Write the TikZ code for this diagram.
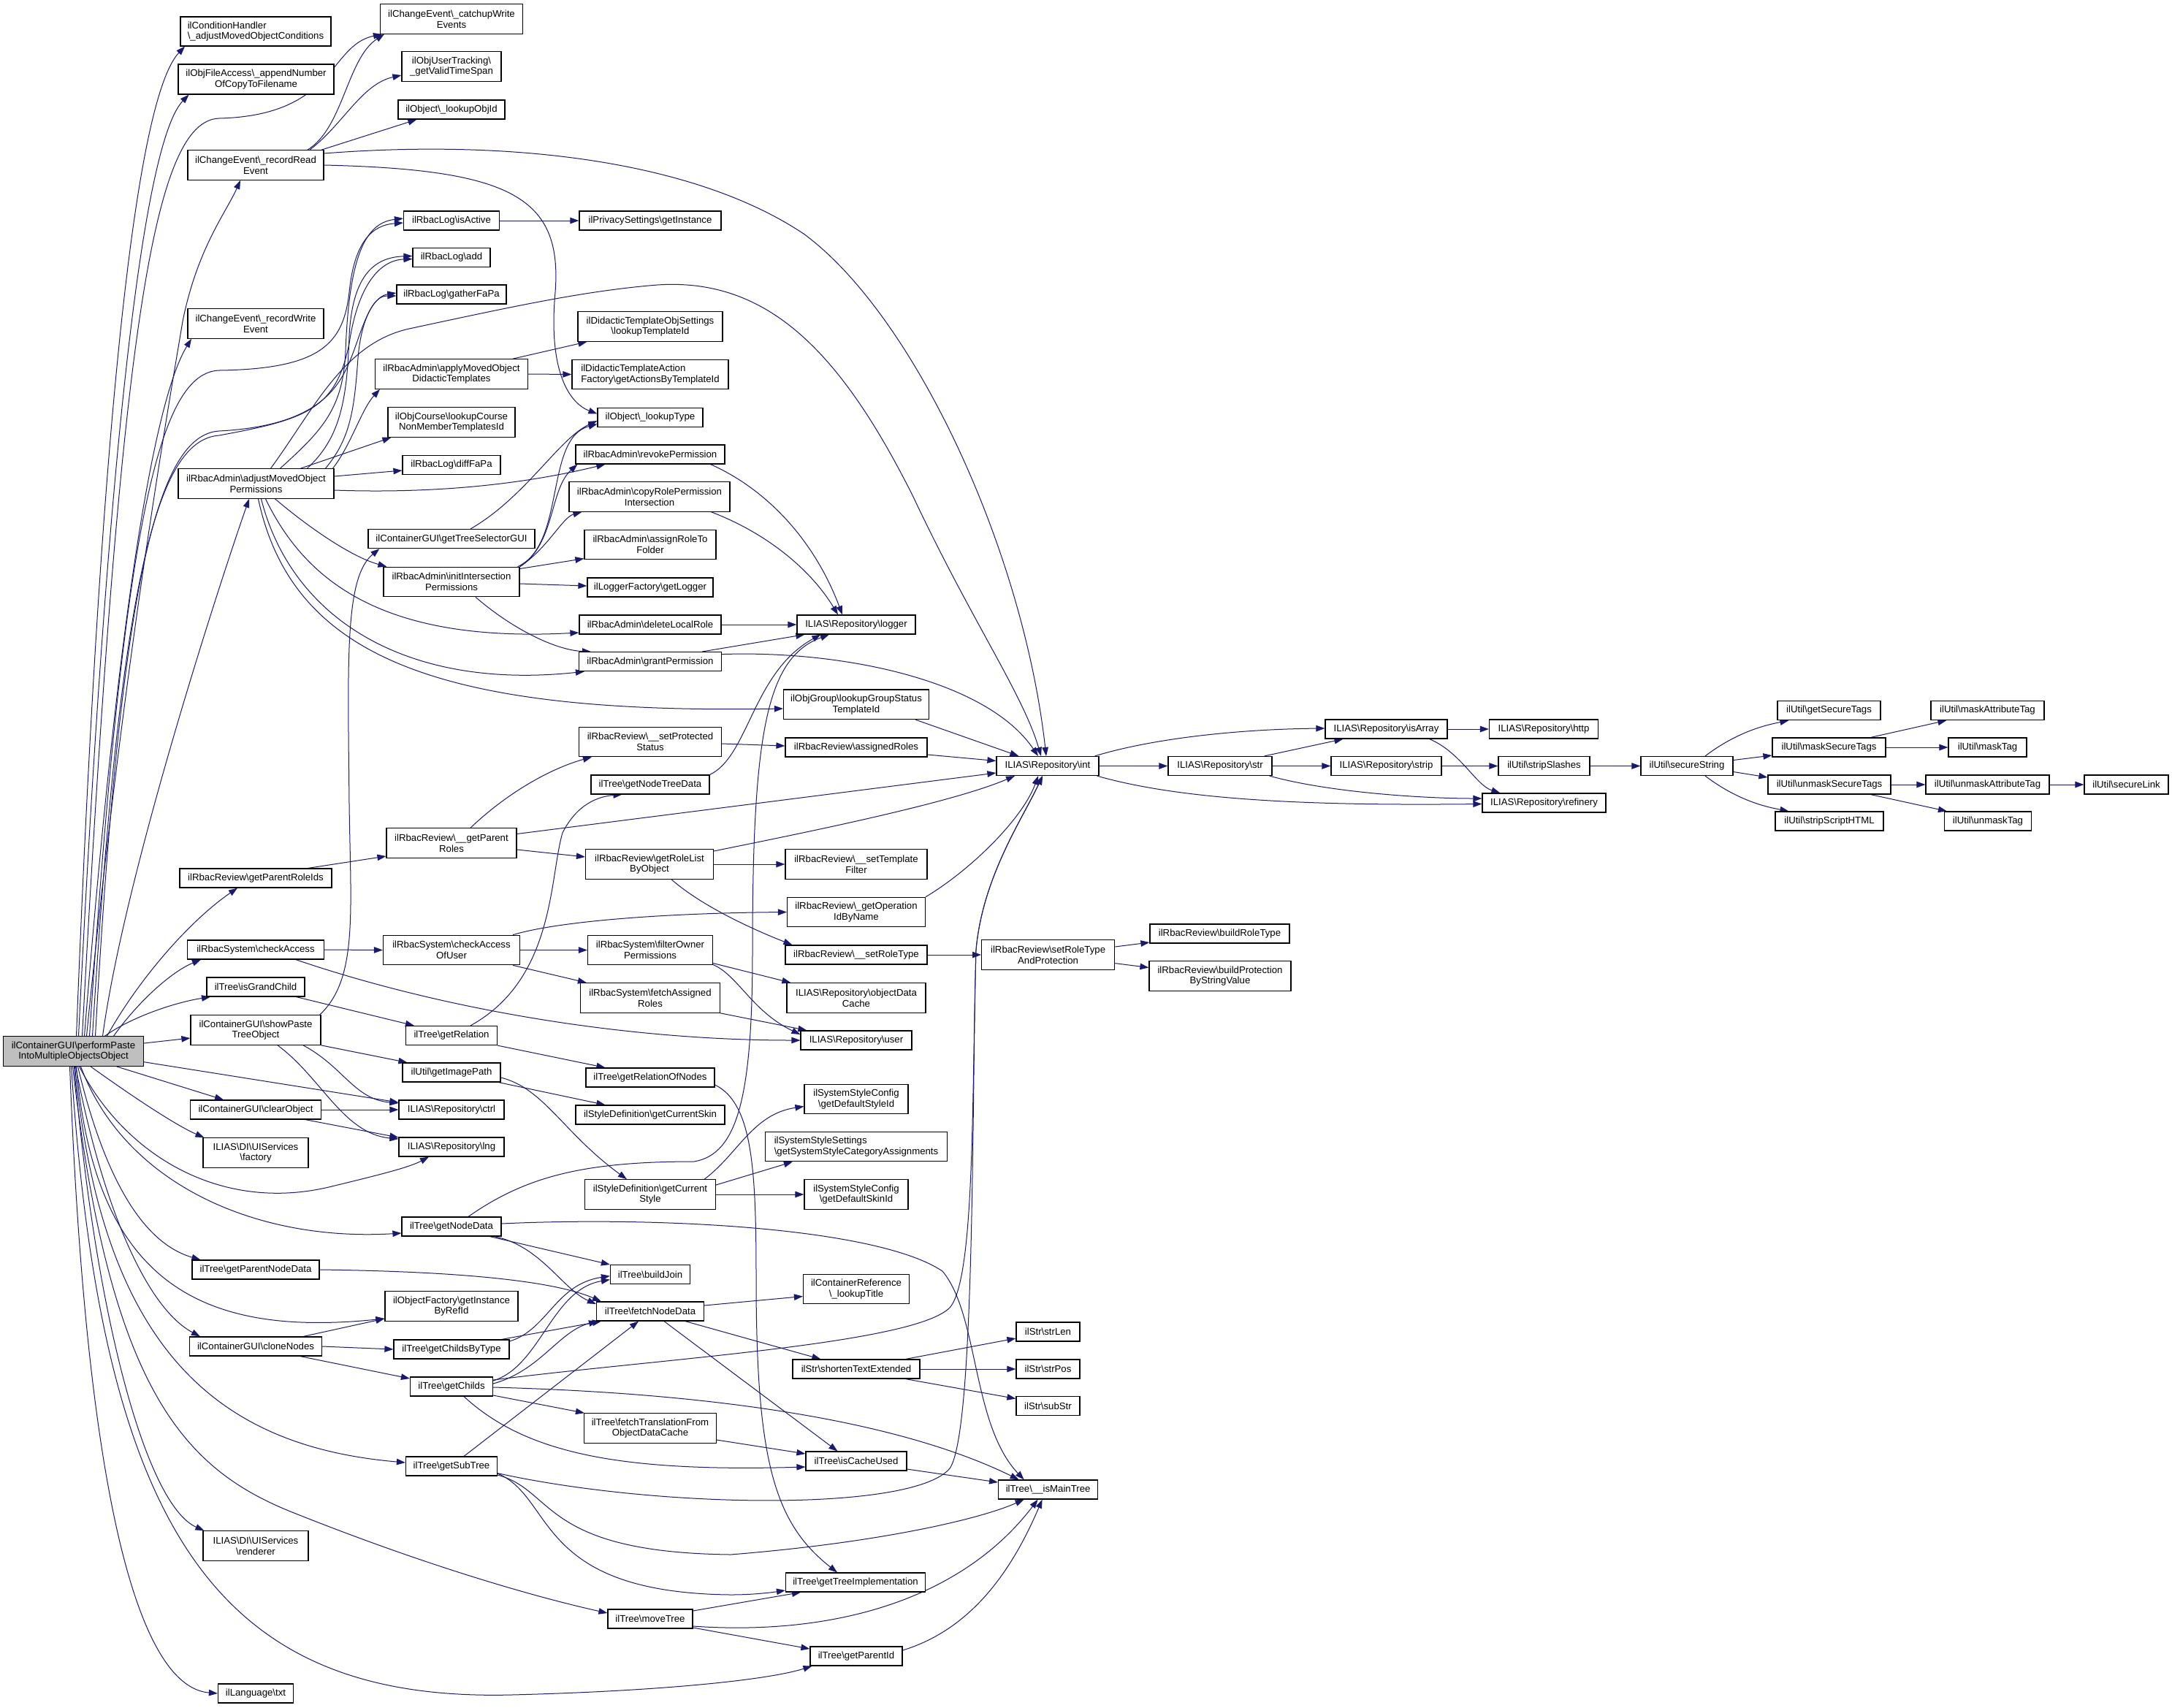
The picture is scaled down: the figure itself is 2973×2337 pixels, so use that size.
\documentclass[tikz,border=0pt]{standalone}
\usepackage{fontspec}
\setmainfont{Liberation Sans}
\usetikzlibrary{arrows.meta}
\definecolor{edgec}{HTML}{191970}
\definecolor{rootg}{HTML}{BFBFBF}
\newcommand\BS{\textbackslash}
\pgfdeclarelayer{bg}
\pgfsetlayers{bg,main}
\tikzset{
  nbox/.style={draw=black,line width=1.2pt,fill=white,inner sep=0pt,align=center,font=\fontsize{13.2}{14.8}\selectfont},
  edg/.style={draw=edgec,line width=1pt,-{Triangle[length=12pt,width=8.5pt]}}
}
\newcommand\bx[6]{\node[nbox,minimum width=#4pt,minimum height=#5pt] (#1) at (#2,#3) {#6};}
\newcommand\bxl[6]{\node[nbox,align=left,minimum width=#4pt,minimum height=#5pt] (#1) at (#2,#3) {#6};}
\begin{document}
\begin{tikzpicture}[x=1pt,y=-1pt]
\useasboundingbox (0,0) rectangle (2973,2337);
% ---------------- nodes ----------------
\node[nbox,fill=rootg,minimum width=192pt,minimum height=40.5pt] (R) at (100.5,1439) {ilContainerGUI\BS{}performPaste\\IntoMultipleObjectsObject};
\bxl{cond}{350}{43}{206}{40}{ilConditionHandler\\\BS\_adjustMovedObjectConditions}
\bx{fileacc}{350.5}{108.5}{213}{41}{ilObjFileAccess\BS\_appendNumber\\OfCopyToFilename}
\bx{recread}{350}{226}{186}{40.5}{ilChangeEvent\BS\_recordRead\\Event}
\bx{recwrite}{350}{443}{186}{40.5}{ilChangeEvent\BS\_recordWrite\\Event}
\bx{adjmoved}{350.5}{662}{213}{40.5}{ilRbacAdmin\BS{}adjustMovedObject\\Permissions}
\bx{parentroleids}{350}{1202}{208}{26}{ilRbacReview\BS{}getParentRoleIds}
\bx{checkaccess}{350}{1300}{187}{26}{ilRbacSystem\BS{}checkAccess}
\bx{isgrand}{350}{1351}{134}{26}{ilTree\BS{}isGrandChild}
\bx{showpaste}{350}{1410}{178}{40.5}{ilContainerGUI\BS{}showPaste\\TreeObject}
\bx{clearobj}{350}{1519}{179}{26}{ilContainerGUI\BS{}clearObject}
\bx{factory}{350}{1578}{144}{40.5}{ILIAS\BS{}DI\BS{}UIServices\\\BS{}factory}
\bx{parentnodedata}{350}{1738}{174}{26}{ilTree\BS{}getParentNodeData}
\bx{clonenodes}{350}{1843}{181}{26}{ilContainerGUI\BS{}cloneNodes}
\bx{renderer}{350}{2116}{144}{40.5}{ILIAS\BS{}DI\BS{}UIServices\\\BS{}renderer}
\bx{txt}{350}{2318}{103}{26}{ilLanguage\BS{}txt}
%
\bx{catchup}{618}{26}{195}{40.5}{ilChangeEvent\BS\_catchupWrite\\Events}
\bx{validtime}{618}{91}{136}{40.5}{ilObjUserTracking\BS\\\_getValidTimeSpan}
\bx{lookupobjid}{618}{150}{146}{26}{ilObject\BS\_lookupObjId}
\bx{isactive}{618}{302}{131}{26}{ilRbacLog\BS{}isActive}
\bx{add}{618}{352.5}{106}{26}{ilRbacLog\BS{}add}
\bx{gather}{618}{403}{150}{26}{ilRbacLog\BS{}gatherFaPa}
\bx{applymoved}{618}{512}{209}{40.5}{ilRbacAdmin\BS{}applyMovedObject\\DidacticTemplates}
\bx{lookupcourse}{618}{578}{174}{40.5}{ilObjCourse\BS{}lookupCourse\\NonMemberTemplatesId}
\bx{difffapa}{618}{636.5}{134}{26}{ilRbacLog\BS{}diffFaPa}
\bx{treeselector}{618}{737.6}{228}{26}{ilContainerGUI\BS{}getTreeSelectorGUI}
\bx{initinter}{618}{796.5}{186}{40.5}{ilRbacAdmin\BS{}initIntersection\\Permissions}
\bx{getparentroles}{618}{1154}{178}{40.5}{ilRbacReview\BS\_\_getParent\\Roles}
\bx{checkaccessofuser}{618}{1300.5}{187}{40.5}{ilRbacSystem\BS{}checkAccess\\OfUser}
\bx{getrelation}{618}{1417.5}{125}{26}{ilTree\BS{}getRelation}
\bx{getimagepath}{618}{1468}{134}{26}{ilUtil\BS{}getImagePath}
\bx{ctrl}{618}{1519}{144}{26}{ILIAS\BS{}Repository\BS{}ctrl}
\bx{lng}{618}{1570}{144}{26}{ILIAS\BS{}Repository\BS{}lng}
\bx{getnodedata}{618}{1679}{136}{26}{ilTree\BS{}getNodeData}
\bx{getinstance}{618}{1788}{182}{40.5}{ilObjectFactory\BS{}getInstance\\ByRefId}
\bx{childsbytype}{618}{1847}{158}{26}{ilTree\BS{}getChildsByType}
\bx{getchilds}{618}{1898}{113}{26}{ilTree\BS{}getChilds}
\bx{getsubtree}{618}{2007}{125}{26}{ilTree\BS{}getSubTree}
%
\bx{privacy}{890}{302}{194}{26}{ilPrivacySettings\BS{}getInstance}
\bx{lookuptemplate}{890}{447}{198}{40.5}{ilDidacticTemplateObjSettings\\\BS{}lookupTemplateId}
\bxl{actionsbytemplate}{890}{512.5}{214}{40.5}{ilDidacticTemplateAction\\Factory\BS{}getActionsByTemplateId}
\bx{lookuptype}{890}{571.5}{144}{26}{ilObject\BS\_lookupType}
\bx{revoke}{890}{622}{204}{26}{ilRbacAdmin\BS{}revokePermission}
\bx{copyrole}{889}{680}{220}{40.5}{ilRbacAdmin\BS{}copyRolePermission\\Intersection}
\bx{assignrole}{890}{745.6}{180}{40.5}{ilRbacAdmin\BS{}assignRoleTo\\Folder}
\bx{getlogger}{890}{804}{172}{26}{ilLoggerFactory\BS{}getLogger}
\bx{deletelocal}{890}{855}{194}{26}{ilRbacAdmin\BS{}deleteLocalRole}
\bx{grant}{890}{905.6}{195}{26}{ilRbacAdmin\BS{}grantPermission}
\bx{setprotected}{890}{1015.5}{195}{40.5}{ilRbacReview\BS\_\_setProtected\\Status}
\bx{nodetreedata}{890}{1074}{162}{26}{ilTree\BS{}getNodeTreeData}
\bx{rolelist}{889}{1183}{175}{40.5}{ilRbacReview\BS{}getRoleList\\ByObject}
\bx{filterowner}{890}{1300.5}{171}{40.5}{ilRbacSystem\BS{}filterOwner\\Permissions}
\bx{fetchassigned}{890}{1366}{191}{40.5}{ilRbacSystem\BS{}fetchAssigned\\Roles}
\bx{relationofnodes}{890}{1475}{176}{26}{ilTree\BS{}getRelationOfNodes}
\bx{currentskin}{890}{1526}{204}{26}{ilStyleDefinition\BS{}getCurrentSkin}
\bx{currentstyle}{890}{1635}{179}{40.5}{ilStyleDefinition\BS{}getCurrent\\Style}
\bx{buildjoin}{890}{1744.6}{109}{26}{ilTree\BS{}buildJoin}
\bx{fetchnodedata}{890}{1795}{147}{26}{ilTree\BS{}fetchNodeData}
\bx{fetchtranslation}{890}{1955}{181}{40.5}{ilTree\BS{}fetchTranslationFrom\\ObjectDataCache}
\bx{movetree}{890}{2216}{116}{26}{ilTree\BS{}moveTree}
%
\bx{logger}{1172}{855}{162}{26}{ILIAS\BS{}Repository\BS{}logger}
\bx{groupstatus}{1172}{964.3}{199}{40.5}{ilObjGroup\BS{}lookupGroupStatus\\TemplateId}
\bx{assignedroles}{1172}{1023}{194}{26}{ilRbacReview\BS{}assignedRoles}
\bx{templatefilter}{1172}{1183}{194}{40.5}{ilRbacReview\BS\_\_setTemplate\\Filter}
\bx{opidbyname}{1172}{1248.5}{189}{40.5}{ilRbacReview\BS\_getOperation\\IdByName}
\bx{setroletype}{1172}{1307}{194}{26}{ilRbacReview\BS\_\_setRoleType}
\bx{objectdatacache}{1172}{1366}{190}{40.5}{ILIAS\BS{}Repository\BS{}objectData\\Cache}
\bx{user}{1172}{1424}{152}{26}{ILIAS\BS{}Repository\BS{}user}
\bx{defaultstyle}{1172}{1504.5}{142}{40.5}{ilSystemStyleConfig\\\BS{}getDefaultStyleId}
\bxl{styleassign}{1172}{1569.5}{249}{40.5}{ilSystemStyleSettings\\\BS{}getSystemStyleCategoryAssignments}
\bx{defaultskin}{1172}{1635}{142}{40.5}{ilSystemStyleConfig\\\BS{}getDefaultSkinId}
\bx{lookuptitle}{1172}{1764.5}{145}{40.5}{ilContainerReference\\\BS\_lookupTitle}
\bx{shortentext}{1172}{1874}{174}{26}{ilStr\BS{}shortenTextExtended}
\bx{iscacheused}{1172}{2000}{138}{26}{ilTree\BS{}isCacheUsed}
\bx{treeimpl}{1171}{2166}{191}{26}{ilTree\BS{}getTreeImplementation}
\bx{parentid}{1172}{2267}{126}{26}{ilTree\BS{}getParentId}
%
\bx{int}{1434}{1048.5}{140}{26}{ILIAS\BS{}Repository\BS{}int}
\bx{setroletypeprot}{1434.6}{1307}{182}{40.5}{ilRbacReview\BS{}setRoleType\\AndProtection}
\bx{strlen}{1434.5}{1823}{87}{26}{ilStr\BS{}strLen}
\bx{strpos}{1434.5}{1874}{87}{26}{ilStr\BS{}strPos}
\bx{substr}{1434.5}{1924.5}{87}{26}{ilStr\BS{}subStr}
\bx{ismaintree}{1434.6}{2039}{136}{26}{ilTree\BS\_\_isMainTree}
%
\bx{str}{1670}{1048.5}{142}{26}{ILIAS\BS{}Repository\BS{}str}
\bx{buildroletype}{1669.5}{1278}{191}{26}{ilRbacReview\BS{}buildRoleType}
\bx{buildprotection}{1670}{1336}{194}{40.5}{ilRbacReview\BS{}buildProtection\\ByStringValue}
\bx{isarray}{1897.5}{998}{167}{26}{ILIAS\BS{}Repository\BS{}isArray}
\bx{strip}{1897.5}{1048.5}{151}{26}{ILIAS\BS{}Repository\BS{}strip}
\bx{http}{2113}{998}{149}{26}{ILIAS\BS{}Repository\BS{}http}
\bx{stripslashes}{2113.5}{1048.5}{125}{26}{ilUtil\BS{}stripSlashes}
\bx{refinery}{2113.5}{1099}{169}{26}{ILIAS\BS{}Repository\BS{}refinery}
\bx{securestring}{2309}{1048.5}{126}{26}{ilUtil\BS{}secureString}
\bx{getsecuretags}{2503.5}{972.5}{141}{26}{ilUtil\BS{}getSecureTags}
\bx{masksecuretags}{2503.5}{1023}{155}{26}{ilUtil\BS{}maskSecureTags}
\bx{unmasksecuretags}{2504}{1074}{168}{26}{ilUtil\BS{}unmaskSecureTags}
\bx{stripscripthtml}{2504}{1124}{148}{26}{ilUtil\BS{}stripScriptHTML}
\bx{maskattributetag}{2720.5}{972.5}{155}{26}{ilUtil\BS{}maskAttributeTag}
\bx{masktag}{2720.5}{1023}{107}{26}{ilUtil\BS{}maskTag}
\bx{unmaskattributetag}{2720.5}{1074}{169}{26}{ilUtil\BS{}unmaskAttributeTag}
\bx{unmasktag}{2721}{1124}{119}{26}{ilUtil\BS{}unmaskTag}
\bx{securelink}{2910.5}{1074}{115}{26}{ilUtil\BS{}secureLink}
% ---------------- edges ----------------
\begin{pgfonlayer}{bg}
\fill[white] (0,0) rectangle (2973,2337);
% root
\draw[edg] ([xshift=4]R.north) .. controls (140,520) and (190,130) .. ([xshift=-97]cond.south);
\draw[edg] ([xshift=7]R.north) .. controls (150,560) and (200,190) .. ([xshift=-92]fileacc.south);
\draw[edg] ([xshift=12]R.north) .. controls (165,450) and (210,165) .. (300,162) .. controls (460,158) and (450,62) .. ([xshift=3]catchup.south west);
\draw[edg] ([xshift=18]R.north) .. controls (170,900) and (230,560) .. (250,440) .. controls (270,340) and (310,290) .. ([xshift=-21]recread.south);
\draw[edg] ([xshift=15]R.north) .. controls (165,800) and (215,540) .. ([xshift=-88]recwrite.south);
\draw[edg] ([xshift=22]R.north) .. controls (170,700) and (220,510) .. (300,507) .. controls (440,505) and (470,470) .. (478,400) .. controls (485,330) and (510,308) .. ([yshift=-3]isactive.west);
\draw[edg] ([xshift=26]R.north) .. controls (165,790) and (215,602) .. (300,596) .. controls (420,574) and (460,560) .. (478,470) .. controls (490,390) and (520,356) .. ([yshift=-2]add.west);
\draw[edg] ([xshift=30]R.north) .. controls (165,800) and (215,595) .. (300,590) .. controls (450,582) and (470,520) .. (488,470) .. controls (505,420) and (515,405) .. ([yshift=-2]gather.west);
\draw[edg] ([xshift=40]R.north) .. controls (170,1200) and (300,800) .. ([xshift=-9.5]adjmoved.south);
\draw[edg] ([xshift=46]R.north) .. controls (190,1340) and (260,1260) .. ([xshift=-25]parentroleids.south);
\draw[edg] ([xshift=55]R.north) .. controls (190,1370) and (235,1330) .. ([xshift=-75]checkaccess.south);
\draw[edg] ([xshift=43]R.north) .. controls (180,1392) and (240,1372) .. ([xshift=-62]isgrand.south);
\draw[edg] ([yshift=11]R.east) -- ([yshift=-11]showpaste.west);
\draw[edg] ([yshift=-14.7]R.east) -- ([yshift=10]ctrl.west);
\draw[edg] ([xshift=59]R.south) -- ([xshift=-44]clearobj.north);
\draw[edg] ([xshift=23.5]R.south) .. controls (180,1500) and (240,1540) .. ([xshift=2]factory.north west);
\draw[edg] ([xshift=8]R.south) .. controls (170,1580) and (300,1660) .. (450,1625) .. controls (520,1608) and (560,1598) .. ([xshift=-31]lng.south);
\draw[edg] ([xshift=10]R.south) .. controls (170,1620) and (350,1700) .. ([yshift=-9]getnodedata.west);
\draw[edg] ([xshift=6]R.south) .. controls (140,1600) and (190,1700) .. ([xshift=12]parentnodedata.north west);
\draw[edg] ([xshift=4]R.south) .. controls (130,1760) and (280,1830) .. ([yshift=-17]getinstance.west);
\draw[edg] ([xshift=3]R.south) .. controls (140,1650) and (200,1790) .. ([xshift=15]clonenodes.north west);
\draw[edg] ([xshift=2]R.south) .. controls (140,1850) and (300,1980) .. ([yshift=5]getsubtree.west);
\draw[edg] ([xshift=1]R.south) .. controls (130,1800) and (200,2060) .. ([xshift=2]renderer.north west);
\draw[edg] ([xshift=-1]R.south) .. controls (150,1900) and (250,2010) .. (400,2070) .. controls (600,2150) and (750,2190) .. ([yshift=8]movetree.west);
\draw[edg] ([xshift=-3]R.south) .. controls (140,2100) and (300,2330) .. (700,2320) .. controls (900,2315) and (1050,2300) .. ([xshift=3]parentid.south west);
\draw[edg] ([xshift=-5]R.south) .. controls (120,2100) and (200,2310) .. (txt.west);
% adjustMovedObjectPermissions
\draw[edg] ([xshift=33]adjmoved.north) .. controls (440,590) and (470,560) .. (473,480) .. controls (478,350) and (500,305) .. ([yshift=3]isactive.west);
\draw[edg] ([xshift=70]adjmoved.north) .. controls (465,600) and (475,550) .. (478,460) .. controls (482,380) and (510,352) .. ([yshift=2]add.west);
\draw[edg] ([xshift=95]adjmoved.north) .. controls (480,600) and (485,560) .. (490,490) .. controls (495,430) and (515,405) .. ([yshift=2]gather.west);
\draw[edg] ([xshift=105]adjmoved.north) .. controls (480,610) and (495,560) .. ([xshift=7]applymoved.south west);
\draw[edg] ([xshift=61]adjmoved.north) -- ([xshift=5]lookupcourse.south west);
\draw[edg] ([xshift=20]adjmoved.north) .. controls (430,560) and (470,470) .. (560,450) .. controls (700,420) and (800,398) .. (900,390) .. controls (1050,380) and (1150,480) .. (1250,680) .. controls (1330,850) and (1400,950) .. ([xshift=-9]int.north);
\draw[edg] ([yshift=10]adjmoved.east) -- ([yshift=-7.5]difffapa.west);
\draw[edg] ([yshift=-9]adjmoved.east) .. controls (600,676) and (720,662) .. ([xshift=41]revoke.south west);
\draw[edg] ([xshift=26]adjmoved.south) .. controls (420,720) and (480,762) .. ([xshift=5]initinter.north west);
\draw[edg] ([xshift=13]adjmoved.south) .. controls (420,800) and (530,880) .. ([yshift=-11]deletelocal.west);
\draw[edg] ([xshift=7]adjmoved.south) .. controls (400,850) and (560,945) .. ([xshift=8]grant.south west);
\draw[edg] ([xshift=3]adjmoved.south) .. controls (400,900) and (600,978) .. ([yshift=-5.7]groupstatus.west);
% recordReadEvent
\draw[edg] ([xshift=71]recread.north) .. controls (470,175) and (475,80) .. ([xshift=6]catchup.south west);
\draw[edg] ([xshift=74]recread.north) .. controls (470,170) and (495,115) .. ([yshift=-12]validtime.west);
\draw[edg] ([xshift=90]recread.north) -- ([xshift=26]lookupobjid.south west);
\draw[edg] ([yshift=16]recread.east) .. controls (700,190) and (950,220) .. (1100,320) .. controls (1250,430) and (1400,750) .. ([xshift=-2]int.north);
\draw[edg] (recread.east) .. controls (700,232) and (770,270) .. (760,400) .. controls (750,510) and (780,552) .. ([yshift=5]lookuptype.west);
\draw[edg] (isactive) -- (privacy);
\draw[edg] ([xshift=84]applymoved.north) -- ([xshift=13]lookuptemplate.south west);
\draw[edg] (applymoved.east) -- (actionsbytemplate.west);
% showPasteTreeObject
\draw[edg] ([xshift=-2]showpaste.north east) .. controls (490,1340) and (480,1250) .. (478,1100) .. controls (476,900) and (472,790) .. ([xshift=16]treeselector.south west);
\draw[edg] (showpaste.south east) -- ([xshift=7]getimagepath.north west);
\draw[edg] ([xshift=65]showpaste.south) .. controls (470,1460) and (485,1505) .. ([yshift=9]ctrl.west);
\draw[edg] ([xshift=30]showpaste.south) .. controls (440,1475) and (470,1552) .. ([yshift=11]lng.west);
\draw[edg] (clearobj.east) -- (ctrl.west);
\draw[edg] ([xshift=68]clearobj.south) -- ([yshift=13]lng.west);
% checkAccess
\draw[edg] (checkaccess.east) -- (checkaccessofuser.west);
\draw[edg] ([xshift=55]checkaccess.south) .. controls (600,1380) and (850,1424) .. (user.west);
\draw[edg] ([xshift=-10]checkaccessofuser.north east) .. controls (760,1262) and (900,1250) .. (opidbyname.west);
\draw[edg] (checkaccessofuser.east) -- (filterowner.west);
\draw[edg] ([xshift=-10]checkaccessofuser.south east) -- ([xshift=9]fetchassigned.north west);
\draw[edg] ([yshift=-18]filterowner.east) -- ([xshift=6]objectdatacache.north west);
\draw[edg] ([yshift=-20]filterowner.east) .. controls (1010,1335) and (1030,1385) .. ([yshift=8]user.west);
\draw[edg] (fetchassigned.south east) -- ([xshift=9]user.north west);
% tree relation
\draw[edg] ([xshift=26]getrelation.north) .. controls (760,1340) and (752,1200) .. (770,1140) .. controls (790,1100) and (820,1090) .. ([xshift=43]nodetreedata.south west);
\draw[edg] (getrelation.south east) -- ([xshift=27]relationofnodes.north west);
\draw[edg] ([xshift=-12]isgrand.south east) -- ([xshift=12]getrelation.north west);
\draw[edg] ([xshift=-3]getimagepath.south east) -- ([xshift=41]currentskin.north west);
\draw[edg] ([yshift=-7]getimagepath.east) .. controls (745,1490) and (770,1550) .. ([xshift=58]currentstyle.north west);
\draw[edg] ([xshift=-16]currentstyle.north east) .. controls (1010,1580) and (1030,1525) .. ([yshift=-10]defaultstyle.west);
\draw[edg] ([yshift=13]currentstyle.east) -- ([xshift=38]styleassign.south west);
\draw[edg] (currentstyle.east) -- (defaultskin.west);
% getNodeData
\draw[edg] ([xshift=23]getnodedata.north) .. controls (720,1610) and (800,1590) .. (950,1590) .. controls (1010,1580) and (1030,1500) .. (1030,1300) .. controls (1030,1000) and (1050,900) .. ([xshift=-37]logger.south);
\draw[edg] ([xshift=-16]getnodedata.south east) -- (buildjoin.north west);
\draw[edg] ([xshift=-10]getnodedata.south east) .. controls (740,1705) and (770,1765) .. ([yshift=10]fetchnodedata.west);
\draw[edg] ([yshift=4]getnodedata.east) .. controls (900,1665) and (1200,1680) .. (1290,1740) .. controls (1340,1800) and (1330,1950) .. ([xshift=-33]ismaintree.north);
\draw[edg] (parentnodedata.east) .. controls (600,1740) and (750,1750) .. ([xshift=7]fetchnodedata.north west);
% cloneNodes
\draw[edg] ([xshift=-26]clonenodes.north east) -- ([yshift=-17]getinstance.west);
\draw[edg] (clonenodes.east) -- (childsbytype.west);
\draw[edg] ([xshift=-30]clonenodes.south east) -- ([yshift=11]getchilds.west);
\draw[edg] ([yshift=11]childsbytype.east) .. controls (750,1820) and (760,1758) .. ([yshift=-2]buildjoin.west);
\draw[edg] ([xshift=-11]childsbytype.north east) -- ([xshift=7]fetchnodedata.south west);
% getChilds
\draw[edg] ([yshift=8]getchilds.east) .. controls (740,1870) and (755,1765) .. ([yshift=-7]buildjoin.west);
\draw[edg] ([yshift=4]getchilds.east) .. controls (740,1876) and (765,1822) .. ([xshift=2]fetchnodedata.south west);
\draw[edg] ([yshift=9]getchilds.east) .. controls (900,1860) and (1250,1840) .. (1300,1790) .. controls (1335,1750) and (1330,1500) .. (1336,1300) .. controls (1345,1200) and (1400,1120) .. ([xshift=-7]int.south);
\draw[edg] ([yshift=-1]getchilds.east) .. controls (900,1905) and (1200,1930) .. ([xshift=-40]ismaintree.north);
\draw[edg] ([yshift=-12]getchilds.east) -- ([xshift=1]fetchtranslation.north west);
\draw[edg] ([xshift=17]getchilds.south) .. controls (720,1990) and (850,2015) .. ([yshift=-8]iscacheused.west);
% getSubTree
\draw[edg] ([xshift=17]getsubtree.north) -- ([xshift=-16]fetchnodedata.south);
\draw[edg] ([yshift=-9.6]getsubtree.east) .. controls (900,2065) and (1250,2070) .. (1300,2010) .. controls (1335,1960) and (1330,1500) .. (1336,1300) .. controls (1345,1200) and (1400,1120) .. ([xshift=-7]int.south);
\draw[edg] ([yshift=-12]getsubtree.east) .. controls (760,2040) and (740,2125) .. (1000,2128) .. controls (1200,2112) and (1340,2080) .. ([xshift=-33]ismaintree.south);
\draw[edg] ([yshift=-10]getsubtree.east) .. controls (760,2050) and (730,2180) .. (1000,2183) .. controls (1030,2183) and (1055,2180) .. ([yshift=-11]treeimpl.west);
% fetchNodeData etc.
\draw[edg] ([yshift=8]fetchnodedata.east) -- ([yshift=-10]lookuptitle.west);
\draw[edg] ([xshift=-26]fetchnodedata.south east) -- ([xshift=39]shortentext.north west);
\draw[edg] ([xshift=19]fetchnodedata.south) -- ([xshift=44]iscacheused.north west);
\draw[edg] ([yshift=-16]fetchtranslation.east) -- ([yshift=10]iscacheused.west);
\draw[edg] ([yshift=-11]iscacheused.east) -- ([yshift=10]ismaintree.west);
\draw[edg] ([yshift=11]movetree.east) -- ([xshift=-75]treeimpl.south);
\draw[edg] ([yshift=-10]movetree.east) .. controls (1150,2240) and (1320,2185) .. ([xshift=-14]ismaintree.south);
\draw[edg] ([yshift=-12]movetree.east) -- ([yshift=10]parentid.west);
\draw[edg] ([yshift=8]parentid.east) .. controls (1330,2230) and (1385,2150) .. ([xshift=-8]ismaintree.south);
\draw[edg] ([yshift=-10]relationofnodes.east) .. controls (1030,1510) and (1035,1600) .. (1035,1750) .. controls (1035,2000) and (1060,2085) .. ([xshift=-25]treeimpl.north);
\draw[edg] ([xshift=-20]shortentext.north east) -- ([yshift=-9]strlen.west);
\draw[edg] (shortentext.east) -- (strpos.west);
\draw[edg] ([xshift=-20]shortentext.south east) -- ([yshift=10]substr.west);
% logger
\draw[edg] ([xshift=-20]revoke.south east) .. controls (1050,670) and (1115,740) .. ([xshift=-19]logger.north);
\draw[edg] ([xshift=-26]copyrole.south east) .. controls (1050,730) and (1110,780) .. ([xshift=-25]logger.north);
\draw[edg] (deletelocal.east) -- (logger.west);
\draw[edg] ([xshift=-27]grant.north east) -- ([xshift=11]logger.south west);
\draw[edg] ([yshift=10]grant.east) .. controls (1150,890) and (1350,930) .. ([xshift=-13]int.north);
\draw[edg] (nodetreedata.north east) .. controls (1025,1035) and (1030,920) .. ([xshift=33]logger.south west);
% initIntersectionPermissions
\draw[edg] ([xshift=-3]initinter.north east) .. controls (775,745) and (745,600) .. ([yshift=-9]lookuptype.west);
\draw[edg] (initinter.north east) .. controls (760,745) and (752,670) .. ([xshift=3]revoke.south west);
\draw[edg] (initinter.north east) .. controls (750,750) and (770,708) .. ([xshift=18]copyrole.south west);
\draw[edg] ([yshift=18]initinter.east) -- ([yshift=-19]assignrole.west);
\draw[edg] ([yshift=-2.5]initinter.east) -- ([yshift=2]getlogger.west);
\draw[edg] ([xshift=33]initinter.south) .. controls (700,860) and (760,890) .. ([xshift=17]grant.north west);
\draw[edg] ([xshift=26]treeselector.north) .. controls (720,680) and (765,600) .. ([yshift=-4.5]lookuptype.west);
% rbac review
\draw[edg] ([xshift=-33]parentroleids.north east) -- ([yshift=-18]getparentroles.west);
\draw[edg] ([xshift=26]getparentroles.north) .. controls (700,1080) and (760,1050) .. ([xshift=18]setprotected.south west);
\draw[edg] ([yshift=12.5]getparentroles.east) -- ([yshift=-9.5]int.west);
\draw[edg] ([yshift=-9]getparentroles.east) -- ([yshift=10]rolelist.west);
\draw[edg] ([yshift=-2.5]setprotected.east) -- ([yshift=2]assignedroles.west);
\draw[edg] ([yshift=18]rolelist.east) .. controls (1100,1140) and (1300,1100) .. ([xshift=-45]int.south);
\draw[edg] (rolelist.east) -- (templatefilter.west);
\draw[edg] ([xshift=-58]rolelist.south east) .. controls (960,1240) and (1030,1272) .. ([xshift=10]setroletype.north west);
\draw[edg] ([xshift=-19]groupstatus.south east) -- ([xshift=31]int.north west);
\draw[edg] ([yshift=-10]assignedroles.east) -- ([yshift=7]int.west);
\draw[edg] (opidbyname.north east) .. controls (1330,1190) and (1400,1120) .. ([xshift=-13]int.south);
\draw[edg] (setroletype.east) -- (setroletypeprot.west);
\draw[edg] ([yshift=11]setroletypeprot.east) -- ([yshift=-12]buildroletype.west);
\draw[edg] ([yshift=-11.6]setroletypeprot.east) -- ([yshift=11.6]buildprotection.west);
% repository / util
\draw[edg] (int.east) -- (str.west);
\draw[edg] ([xshift=-6]int.north east) .. controls (1580,1010) and (1700,998) .. ([yshift=1]isarray.west);
\draw[edg] ([xshift=-3]int.south east) .. controls (1620,1096) and (1800,1103) .. ([yshift=-1.5]refinery.west);
\draw[edg] ([xshift=-11]str.north east) -- ([xshift=25]isarray.south west);
\draw[edg] (str.east) -- (strip.west);
\draw[edg] ([xshift=-4]str.south east) .. controls (1820,1085) and (1950,1093) .. ([yshift=6]refinery.west);
\draw[edg] (isarray.east) -- (http.west);
\draw[edg] ([xshift=-25]isarray.south east) .. controls (2000,1030) and (2020,1075) .. ([xshift=25]refinery.north west);
\draw[edg] (strip.east) -- (stripslashes.west);
\draw[edg] (stripslashes.east) -- (securestring.west);
\draw[edg] ([xshift=25]securestring.north) .. controls (2380,1000) and (2420,992) .. ([xshift=16]getsecuretags.south west);
\draw[edg] ([yshift=8]securestring.east) -- ([yshift=-11]masksecuretags.west);
\draw[edg] ([yshift=-8]securestring.east) -- ([yshift=10]unmasksecuretags.west);
\draw[edg] ([xshift=25]securestring.south) .. controls (2380,1097) and (2420,1105) .. ([xshift=19]stripscripthtml.north west);
\draw[edg] ([xshift=-21]masksecuretags.north east) -- ([xshift=22]maskattributetag.south west);
\draw[edg] (masksecuretags.east) -- (masktag.west);
\draw[edg] (unmasksecuretags.east) -- (unmaskattributetag.west);
\draw[edg] ([xshift=-28]unmasksecuretags.south east) -- ([xshift=4]unmasktag.north west);
\draw[edg] (unmaskattributetag.east) -- (securelink.west);
\end{pgfonlayer}
\end{tikzpicture}
\end{document}
